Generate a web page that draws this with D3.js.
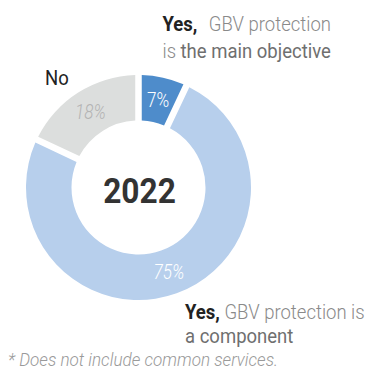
<!DOCTYPE html>
<html>
<head>
<meta charset="utf-8">
<script src="https://cdn.jsdelivr.net/npm/d3@7"></script>
<style>
  html, body { margin: 0; padding: 0; background: #fff; }
  svg { display: block; }
  text { font-family: Roboto, "Noto Sans", sans-serif; }
</style>
</head>
<body>
<svg id="chart" width="368" height="372"></svg>
<script>
const categories = ["main objective", "component", "no"];
const values = [7, 75, 18];
const sliceColors = ["#4e8ccb", "#b7cfec", "#dcdedd"];
const labelColors = ["#ffffff", "#ffffff", "#b3b3b3"];
const centerTitle = "2022";
const footnote = "* Does not include common services.";

const W = 368, H = 372;
const cx = 138.5, cy = 187.5;
const rOuter = 112.5, rInner = 67;
const SX = 0.88;   // condensed look for numbers
const SXL = 0.95;  // labels

const svg = d3.select("#chart");

const pie = d3.pie().value(d => d).sort(null);
const arcs = pie(values);
const arc = d3.arc().innerRadius(rInner).outerRadius(rOuter)
  .padAngle(0.062).padRadius(105);

const g = svg.append("g").attr("transform", `translate(${cx},${cy})`);
g.selectAll("path").data(arcs).join("path")
  .attr("d", arc)
  .attr("fill", (d, i) => sliceColors[i]);

const labelArc = d3.arc().innerRadius(rInner).outerRadius(rOuter);
g.selectAll("text.pct").data(arcs).join("text")
  .attr("class", "pct")
  .attr("transform", d => { const c = labelArc.centroid(d); return `translate(${c[0]},${c[1] + 7}) scale(${SX},1)`; })
  .attr("text-anchor", "middle")
  .attr("font-size", 19.5)
  .attr("font-weight", 300)
  .attr("font-style", (d, i) => i === 0 ? "normal" : "italic")
  .attr("fill", (d, i) => labelColors[i])
  .text(d => d.data + "%");

// center title
svg.append("text")
  .attr("transform", `translate(${cx + 1},${cy + 15}) scale(${SX},1)`)
  .attr("text-anchor", "middle")
  .attr("font-size", 36)
  .attr("font-weight", 700)
  .attr("fill", "#333333")
  .text(centerTitle);

function label(x, y, parts, size) {
  const t = svg.append("text")
    .attr("transform", `translate(${x},${y}) scale(${SXL},1)`)
    .attr("font-size", size || 19.5);
  parts.forEach(p => {
    t.append("tspan")
      .attr("font-weight", p.w)
      .attr("fill", p.c)
      .attr("dx", p.dx || 0)
      .text(p.t);
  });
  return t;
}

// top label
label(162.5, 31, [
  {t: "Yes,", w: 700, c: "#222222"},
  {t: "GBV protection", w: 300, c: "#8a8a8a", dx: 12}
]);
label(162.5, 58, [
  {t: "is ", w: 300, c: "#8a8a8a"},
  {t: "the main objective", w: 400, c: "#6f6f6f"}
]);

// No
label(45, 85, [{t: "No", w: 400, c: "#222222"}]);

// bottom label
label(185, 319, [
  {t: "Yes,", w: 700, c: "#222222"},
  {t: " GBV protection is", w: 300, c: "#8a8a8a"}
]);
label(185, 343, [{t: "a component", w: 400, c: "#6f6f6f"}]);

// footnote
svg.append("text")
  .attr("transform", `translate(8,366) scale(${SXL},1)`)
  .attr("font-size", 18)
  .attr("font-weight", 300)
  .attr("font-style", "italic")
  .attr("fill", "#9a9a9a")
  .text(footnote);
</script>
</body>
</html>
